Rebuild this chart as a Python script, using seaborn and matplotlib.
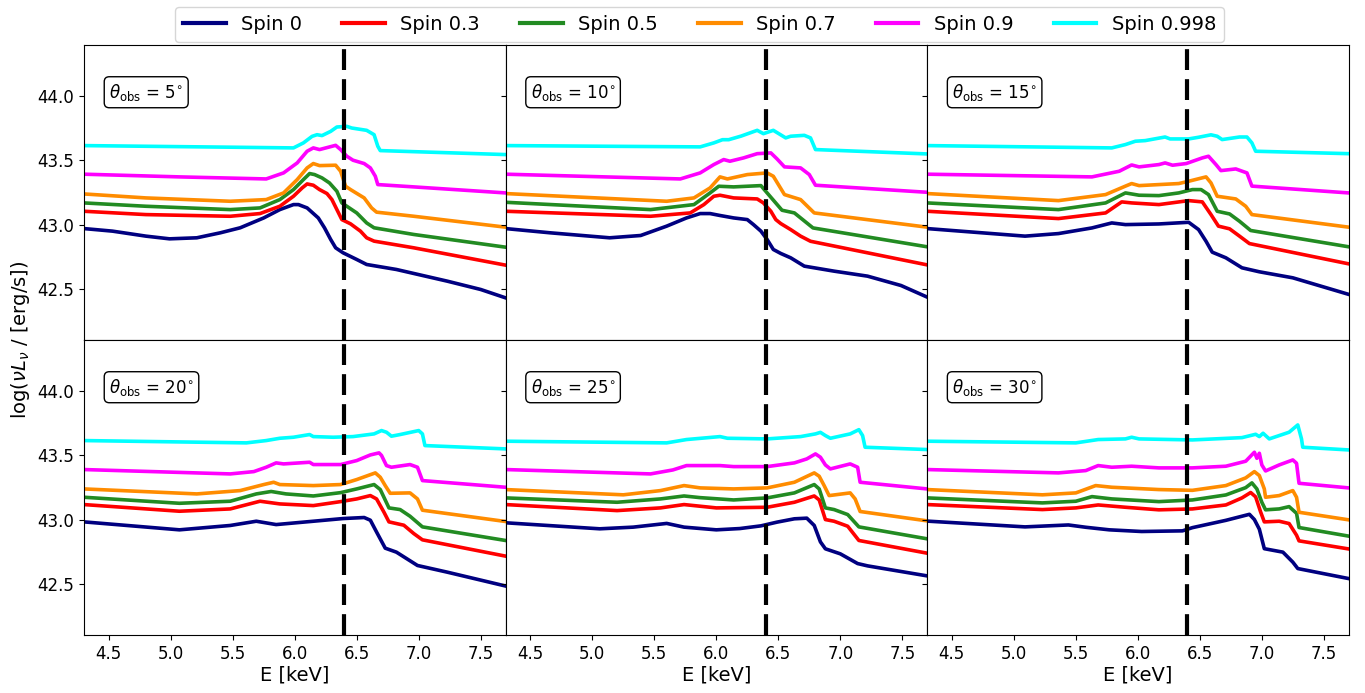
import matplotlib
matplotlib.use("Agg")
import matplotlib.pyplot as plt
import seaborn as sns
import pandas as pd
from matplotlib.lines import Line2D

# ---------------- data (E [keV], log nuL_nu) ----------------
spins = ["Spin 0", "Spin 0.3", "Spin 0.5", "Spin 0.7", "Spin 0.9", "Spin 0.998"]
colors = ["#000080", "#ff0000", "#228b22", "#ff8c00", "#ff00ff", "#00ffff"]
angles = [5, 10, 15, 20, 25, 30]
xticks = [4.5, 5.0, 5.5, 6.0, 6.5, 7.0, 7.5]
yticks = [42.5, 43.0, 43.5, 44.0]
fe_line = 6.4

t05_s0 = [(4.30,42.969),(4.53,42.949),(4.80,42.910),(4.99,42.889),(5.21,42.897),(5.40,42.936),(5.56,42.975),(5.75,43.052),(5.88,43.117),(5.99,43.156),(6.03,43.156),(6.10,43.130),(6.19,43.052),(6.24,42.975),(6.29,42.884),(6.33,42.819),(6.39,42.780),(6.50,42.728),(6.58,42.689),(6.82,42.650),(7.23,42.559),(7.50,42.494),(7.70,42.429)]
t05_s1 = [(4.30,43.104),(4.80,43.078),(5.48,43.065),(5.72,43.086),(5.88,43.143),(5.99,43.221),(6.06,43.286),(6.10,43.317),(6.15,43.307),(6.20,43.273),(6.26,43.242),(6.30,43.195),(6.34,43.117),(6.38,43.039),(6.45,43.006),(6.53,42.949),(6.58,42.897),(6.64,42.871),(6.96,42.819),(7.70,42.684)]
t05_s2 = [(4.30,43.169),(4.80,43.143),(5.48,43.117),(5.72,43.130),(5.88,43.195),(5.99,43.273),(6.07,43.351),(6.12,43.398),(6.16,43.390),(6.22,43.364),(6.28,43.325),(6.34,43.260),(6.38,43.169),(6.42,43.143),(6.50,43.091),(6.58,43.013),(6.64,42.975),(6.96,42.923),(7.70,42.824)]
t05_s3 = [(4.30,43.239),(4.80,43.208),(5.48,43.182),(5.77,43.195),(5.91,43.247),(6.02,43.351),(6.10,43.442),(6.15,43.476),(6.20,43.460),(6.33,43.463),(6.37,43.416),(6.41,43.299),(6.45,43.273),(6.56,43.208),(6.62,43.130),(6.66,43.097),(6.96,43.065),(7.70,42.980)]
t05_s4 = [(4.30,43.393),(5.07,43.372),(5.77,43.356),(5.91,43.403),(6.02,43.481),(6.10,43.572),(6.15,43.598),(6.20,43.585),(6.33,43.618),(6.37,43.585),(6.42,43.533),(6.47,43.502),(6.56,43.476),(6.61,43.442),(6.65,43.377),(6.67,43.312),(6.96,43.294),(7.70,43.247)]
t05_s5 = [(4.30,43.616),(5.34,43.605),(5.99,43.598),(6.07,43.637),(6.14,43.688),(6.18,43.701),(6.22,43.694),(6.29,43.727),(6.34,43.761),(6.42,43.766),(6.46,43.753),(6.58,43.735),(6.64,43.701),(6.67,43.611),(6.69,43.577),(7.70,43.546)]

t10_s0 = [(4.30,42.969),(4.66,42.936),(5.14,42.897),(5.39,42.915),(5.60,42.988),(5.76,43.052),(5.87,43.086),(5.95,43.086),(6.03,43.071),(6.14,43.052),(6.25,43.039),(6.30,43.000),(6.36,42.949),(6.41,42.884),(6.46,42.806),(6.52,42.775),(6.60,42.741),(6.71,42.676),(6.95,42.637),(7.22,42.598),(7.49,42.525),(7.70,42.435)]
t10_s1 = [(4.30,43.104),(5.47,43.065),(5.79,43.091),(5.90,43.156),(5.98,43.221),(6.03,43.229),(6.14,43.208),(6.33,43.200),(6.38,43.169),(6.44,43.104),(6.48,43.039),(6.52,43.008),(6.60,42.961),(6.68,42.910),(6.76,42.870),(7.70,42.686)]
t10_s2 = [(4.3,43.174),(5.47,43.117),(5.82,43.156),(5.95,43.247),(6.02,43.299),(6.14,43.294),(6.36,43.304),(6.41,43.247),(6.53,43.112),(6.63,43.091),(6.78,42.974),(7.7,42.827)]
t10_s3 = [(4.3,43.242),(5.60,43.182),(5.82,43.208),(5.95,43.286),(6.03,43.372),(6.09,43.356),(6.25,43.39),(6.41,43.403),(6.46,43.377),(6.55,43.234),(6.68,43.195),(6.79,43.091),(7.7,42.98)]
t10_s4 = [(4.3,43.393),(5.71,43.356),(5.87,43.403),(5.98,43.468),(6.06,43.507),(6.11,43.494),(6.22,43.52),(6.33,43.553),(6.44,43.559),(6.49,43.512),(6.55,43.45),(6.68,43.442),(6.75,43.39),(6.80,43.307),(7.7,43.252)]
t10_s5 = [(4.3,43.616),(5.87,43.606),(5.98,43.637),(6.05,43.662),(6.10,43.662),(6.20,43.69),(6.33,43.735),(6.38,43.709),(6.46,43.735),(6.56,43.676),(6.60,43.689),(6.71,43.696),(6.76,43.676),(6.80,43.585),(7.7,43.551)]

t15_s0 = [(4.3,42.969),(5.09,42.91),(5.36,42.93),(5.63,42.974),(5.79,43.013),(5.90,43.0),(6.17,43.005),(6.41,43.018),(6.49,42.961),(6.55,42.87),(6.60,42.785),(6.71,42.741),(6.84,42.663),(6.98,42.632),(7.25,42.585),(7.7,42.456)]
t15_s1 = [(4.3,43.104),(5.36,43.047),(5.74,43.091),(5.87,43.177),(5.95,43.169),(6.17,43.156),(6.41,43.187),(6.52,43.177),(6.59,43.078),(6.65,42.988),(6.74,42.967),(6.82,42.91),(6.90,42.852),(7.7,42.694)]
t15_s2 = [(4.3,43.169),(5.36,43.117),(5.74,43.169),(5.90,43.247),(6.01,43.229),(6.17,43.226),(6.33,43.247),(6.44,43.273),(6.51,43.273),(6.57,43.234),(6.64,43.104),(6.74,43.083),(6.82,43.026),(6.91,42.954),(7.7,42.827)]
t15_s3 = [(4.3,43.242),(5.36,43.187),(5.74,43.234),(5.90,43.3),(5.95,43.32),(6.01,43.304),(6.33,43.32),(6.41,43.338),(6.55,43.372),(6.59,43.325),(6.64,43.221),(6.79,43.2),(6.87,43.143),(6.92,43.078),(7.7,42.98)]
t15_s4 = [(4.3,43.393),(5.63,43.372),(5.85,43.416),(5.95,43.465),(6.01,43.45),(6.17,43.468),(6.22,43.481),(6.28,43.463),(6.39,43.476),(6.52,43.52),(6.57,43.533),(6.63,43.468),(6.67,43.421),(6.79,43.434),(6.88,43.403),(6.92,43.30),(7.7,43.247)]
t15_s5 = [(4.3,43.616),(5.79,43.598),(5.90,43.624),(5.98,43.65),(6.06,43.655),(6.22,43.683),(6.26,43.668),(6.41,43.668),(6.49,43.681),(6.59,43.70),(6.64,43.689),(6.68,43.663),(6.82,43.683),(6.88,43.683),(6.92,43.637),(6.95,43.572),(7.7,43.553)]

t20_s0 = [(4.3,42.982),(5.07,42.92),(5.48,42.954),(5.69,42.987),(5.85,42.961),(6.15,42.987),(6.39,43.008),(6.56,43.016),(6.61,42.995),(6.66,42.903),(6.73,42.777),(6.82,42.746),(6.99,42.642),(7.23,42.590),(7.7,42.482)]
t20_s1 = [(4.3,43.117),(5.07,43.065),(5.48,43.083),(5.72,43.143),(5.88,43.122),(6.15,43.109),(6.37,43.14),(6.50,43.161),(6.61,43.187),(6.66,43.161),(6.72,43.057),(6.76,42.982),(6.88,42.956),(6.96,42.891),(7.03,42.842),(7.7,42.715)]
t20_s2 = [(4.3,43.174),(5.07,43.127),(5.48,43.143),(5.69,43.2),(5.81,43.219),(5.93,43.2),(6.15,43.184),(6.37,43.21),(6.50,43.239),(6.64,43.273),(6.69,43.234),(6.76,43.091),(6.85,43.078),(6.93,43.026),(7.03,42.943),(7.7,42.837)]
t20_s3 = [(4.3,43.239),(5.21,43.2),(5.56,43.226),(5.75,43.273),(5.83,43.291),(5.88,43.273),(6.15,43.265),(6.37,43.273),(6.50,43.312),(6.65,43.364),(6.69,43.330),(6.73,43.265),(6.77,43.205),(6.93,43.208),(6.99,43.161),(7.03,43.073),(7.7,42.985)]
t20_s4 = [(4.3,43.39),(5.48,43.356),(5.67,43.374),(5.77,43.408),(5.85,43.442),(5.91,43.434),(6.12,43.447),(6.15,43.429),(6.37,43.429),(6.50,43.46),(6.61,43.504),(6.68,43.52),(6.70,43.5),(6.74,43.421),(6.78,43.408),(6.93,43.429),(6.99,43.408),(7.03,43.304),(7.7,43.252)]
t20_s5 = [(4.3,43.616),(5.61,43.598),(5.77,43.616),(5.88,43.634),(5.99,43.642),(6.12,43.663),(6.15,43.647),(6.31,43.642),(6.47,43.647),(6.64,43.668),(6.70,43.694),(6.74,43.681),(6.78,43.65),(6.85,43.663),(7.00,43.694),(7.03,43.668),(7.05,43.577),(7.7,43.551)]

t25_s0 = [(4.3,42.975),(5.06,42.928),(5.33,42.941),(5.60,42.97),(5.74,42.941),(6.00,42.92),(6.19,42.93),(6.36,42.951),(6.49,42.98),(6.63,43.006),(6.73,43.011),(6.79,42.954),(6.84,42.826),(6.88,42.772),(7.00,42.733),(7.14,42.657),(7.22,42.639),(7.7,42.561)]
t25_s1 = [(4.3,43.117),(5.20,43.07),(5.55,43.091),(5.74,43.117),(6.00,43.091),(6.41,43.096),(6.63,43.135),(6.79,43.184),(6.83,43.153),(6.88,43.0),(6.95,42.987),(7.06,42.948),(7.15,42.837),(7.7,42.738)]
t25_s2 = [(4.3,43.169),(5.20,43.135),(5.55,43.161),(5.74,43.184),(5.87,43.171),(6.14,43.153),(6.41,43.169),(6.63,43.208),(6.79,43.273),(6.83,43.239),(6.88,43.091),(6.95,43.078),(7.06,43.039),(7.15,42.943),(7.7,42.85)]
t25_s3 = [(4.3,43.234),(5.25,43.193),(5.55,43.226),(5.74,43.265),(5.87,43.247),(6.14,43.239),(6.41,43.247),(6.63,43.291),(6.79,43.364),(6.83,43.338),(6.87,43.265),(6.91,43.187),(7.08,43.208),(7.12,43.161),(7.16,43.063),(7.7,42.99)]
t25_s4 = [(4.3,43.39),(5.47,43.356),(5.65,43.387),(5.76,43.421),(6.03,43.421),(6.14,43.413),(6.41,43.413),(6.63,43.442),(6.73,43.473),(6.80,43.512),(6.84,43.486),(6.88,43.426),(6.92,43.395),(7.08,43.434),(7.14,43.408),(7.16,43.291),(7.7,43.239)]
t25_s5 = [(4.3,43.611),(5.60,43.598),(5.76,43.624),(6.03,43.647),(6.09,43.634),(6.41,43.629),(6.68,43.647),(6.80,43.668),(6.84,43.68),(6.88,43.655),(6.92,43.634),(7.08,43.668),(7.15,43.701),(7.18,43.655),(7.20,43.564),(7.7,43.546)]

t30_s0 = [(4.3,42.988),(5.09,42.943),(5.44,42.958),(5.58,42.94),(5.77,42.92),(6.03,42.907),(6.36,42.912),(6.44,42.937),(6.71,42.994),(6.90,43.041),(6.94,43.0),(6.98,42.925),(7.02,42.773),(7.17,42.746),(7.25,42.668),(7.29,42.618),(7.7,42.54)]
t30_s1 = [(4.3,43.117),(5.23,43.078),(5.50,43.091),(5.68,43.114),(5.90,43.096),(6.17,43.076),(6.44,43.083),(6.71,43.114),(6.84,43.169),(6.91,43.211),(6.95,43.177),(6.99,43.060),(7.02,42.982),(7.14,42.987),(7.22,42.969),(7.28,42.878),(7.30,42.834),(7.7,42.771)]
t30_s2 = [(4.3,43.169),(5.23,43.13),(5.50,43.143),(5.63,43.179),(5.79,43.161),(6.17,43.14),(6.44,43.153),(6.71,43.192),(6.87,43.249),(6.92,43.286),(6.96,43.239),(7.00,43.135),(7.03,43.076),(7.14,43.083),(7.22,43.101),(7.28,43.049),(7.30,42.938),(7.7,42.871)]
t30_s3 = [(4.3,43.234),(5.23,43.193),(5.50,43.208),(5.66,43.265),(5.79,43.252),(6.17,43.234),(6.44,43.228),(6.71,43.265),(6.87,43.325),(6.94,43.374),(6.98,43.343),(7.02,43.239),(7.03,43.174),(7.14,43.187),(7.25,43.226),(7.28,43.174),(7.30,43.057),(7.7,42.998)]
t30_s4 = [(4.3,43.39),(5.36,43.364),(5.58,43.382),(5.68,43.421),(5.79,43.408),(5.95,43.416),(6.17,43.403),(6.44,43.403),(6.71,43.416),(6.87,43.455),(6.94,43.525),(6.96,43.478),(6.98,43.517),(7.00,43.426),(7.03,43.379),(7.14,43.426),(7.25,43.465),(7.28,43.439),(7.30,43.283),(7.7,43.247)]
t30_s5 = [(4.3,43.611),(5.50,43.598),(5.68,43.624),(5.90,43.629),(5.95,43.642),(6.01,43.629),(6.44,43.621),(6.84,43.639),(6.95,43.665),(6.98,43.647),(7.01,43.673),(7.06,43.629),(7.22,43.681),(7.29,43.738),(7.32,43.629),(7.33,43.564),(7.7,43.543)]

panels = {
    5: [t05_s0, t05_s1, t05_s2, t05_s3, t05_s4, t05_s5],
    10: [t10_s0, t10_s1, t10_s2, t10_s3, t10_s4, t10_s5],
    15: [t15_s0, t15_s1, t15_s2, t15_s3, t15_s4, t15_s5],
    20: [t20_s0, t20_s1, t20_s2, t20_s3, t20_s4, t20_s5],
    25: [t25_s0, t25_s1, t25_s2, t25_s3, t25_s4, t25_s5],
    30: [t30_s0, t30_s1, t30_s2, t30_s3, t30_s4, t30_s5],
}

# ---------------- figure ----------------
fig, axes = plt.subplots(2, 3, figsize=(13.65, 6.93), dpi=100, sharex=True, sharey=True)
fig.subplots_adjust(left=0.0615, right=0.988, top=0.935, bottom=0.0837, wspace=0, hspace=0)
palette = dict(zip(spins, colors))

for ax, ang in zip(axes.flat, angles):
    rows = []
    for spin, series in zip(spins, panels[ang]):
        for i, (e, l) in enumerate(series):
            rows.append({"E": e, "L": l, "spin": spin, "i": i})
    df = pd.DataFrame(rows)
    sns.lineplot(data=df, x="E", y="L", hue="spin", hue_order=spins, palette=palette,
                 estimator=None, sort=False, units="spin", lw=2.6, legend=False, ax=ax)
    ax.axvline(fe_line, color="black", ls="--", lw=3, dashes=(5, 2.2), zorder=5)
    ax.text(0.06, 0.84, r"$\theta_{\rm obs}$ = %d$^{\circ}$" % ang, transform=ax.transAxes,
            fontsize=12, va="center", ha="left",
            bbox=dict(boxstyle="round,pad=0.3", fc="white", ec="black", lw=1))
    ax.set_xlim(4.3, 7.7)
    ax.set_ylim(42.1, 44.4)
    ax.set_xticks(xticks)
    ax.set_yticks(yticks)
    ax.tick_params(labelsize=12)
    ax.set_xlabel("")
    ax.set_ylabel("")

for ax in axes[0]:
    ax.tick_params(axis="x", length=0)
for ax in axes[1]:
    ax.set_xlabel("E [keV]", fontsize=14, labelpad=2)

fig.text(0.015, 0.51, r"log($\nu L_\nu$ / [erg/s])", rotation=90, va="center", ha="center", fontsize=14)

handles = [Line2D([0], [0], color=c, lw=3) for c in colors]
fig.legend(handles, spins, loc="upper center", bbox_to_anchor=(0.5125, 1.004), ncol=6,
           fontsize=14, frameon=True, handlelength=2.2, handletextpad=0.8, columnspacing=2.05)

fig.savefig("out.png", dpi=100)
